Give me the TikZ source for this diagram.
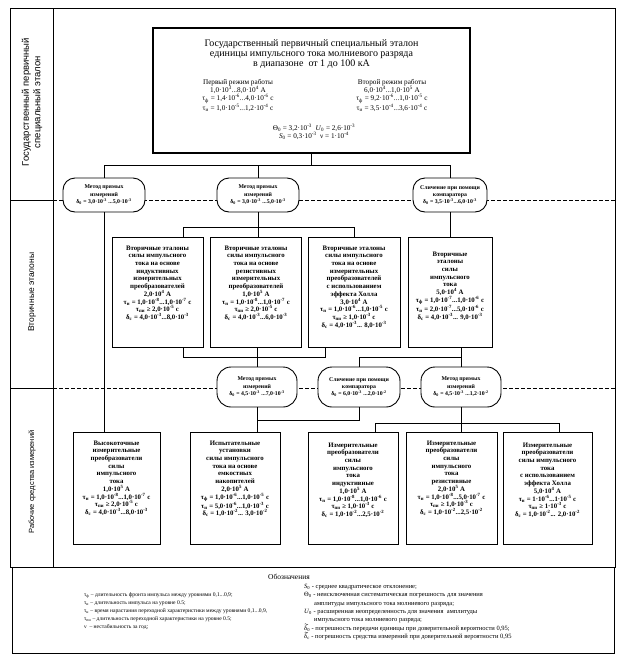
\documentclass[tikz,border=0pt]{standalone}
\usepackage{fontspec}
\setmainfont{Liberation Serif}
\newfontfamily\labelfont{Liberation Sans}
\usetikzlibrary{calc}
\newcommand{\ten}[1]{·10\textsuperscript{#1}}
\newcommand{\sbs}[1]{\textsubscript{#1}}
\newcommand{\tdelta}{\makebox[0pt][l]{\hspace{0.4pt}\raisebox{5.2pt}{\tikz\draw[line width=0.3pt] (0pt,0pt) sin (0.8pt,0.5pt) cos (1.6pt,0pt) sin (2.4pt,-0.5pt) cos (3.2pt,0pt);}}δ}
\tikzset{
  frameline/.style={line width=0.8pt},
  boxst/.style={draw, line width=1pt, fill=white, inner sep=0pt},
  ovalst/.style={draw, line width=0.9pt, fill=white, rounded corners=12pt, inner sep=0pt, align=center, font=\fontsize{5.8}{7.4}\selectfont\bfseries},
  btxt/.style={align=center, inner sep=0pt, font=\fontsize{6.8}{7.7}\selectfont\bfseries},
  ptxt/.style={align=center, inner sep=0pt, font=\fontsize{7.2}{8.3}\selectfont},
  labtxt/.style={rotate=90, align=center, inner sep=0pt},
  conn/.style={line width=0.8pt},
  divl/.style={line width=0.8pt, dash pattern=on 3.5pt off 2.5pt},
}
\begin{document}
\begin{tikzpicture}[x=1pt,y=-1pt]
\useasboundingbox (0,0) rectangle (621,662);
% frame and rows
\draw[frameline] (10,8) rectangle (615,567);
\draw[frameline] (53,8) -- (53,567);
\draw[frameline] (10,200) -- (53,200);
\draw[divl] (53,200) -- (615,200);
\draw[frameline] (10,388) -- (53,388);
\draw[divl] (53,388) -- (615,388);
\draw[frameline] (12,567) rectangle (614,653);
% row labels
\node[labtxt, font=\labelfont\fontsize{9.5}{11.5}\selectfont] (lab1) at (32,102) {Государственный первичный\\специальный эталон};
\node[labtxt, font=\labelfont\fontsize{8.5}{10}\selectfont] (lab2) at (32,292) {Вторичные эталоны};
\node[labtxt, font=\labelfont\fontsize{7.5}{9}\selectfont] (lab3) at (32,482) {Рабочие средства измерений};
% primary standard
\node[boxst, line width=2.2pt, minimum width=317pt, minimum height=125pt] (top) at (311.5,90.5) {};
\node[align=center, inner sep=0pt, font=\fontsize{10}{10.3}\selectfont, anchor=north] (ttl) at (311.5,39) {Государственный первичный специальный эталон\\единицы импульсного тока молниевого разряда\\в диапазоне\ \ от 1 до 100 кА};
\node[ptxt, anchor=north] (m1) at (238,79) {Первый режим работы\\1,0\ten{3}...8,0\ten{4} А\\τ\sbs{ф} = 1,4\ten{-6}...4,0\ten{-6} с\\τ\sbs{и} = 1,0\ten{-5}...1,2\ten{-4} с};
\node[ptxt, anchor=north] (m2) at (392,79) {Второй режим работы\\6,0\ten{4}...1,0\ten{5} А\\τ\sbs{ф} = 9,2\ten{-6}...1,0\ten{-5} с\\τ\sbs{и} = 3,5\ten{-4}...3,6\ten{-4} с};
\node[ptxt, anchor=north] (prm) at (314,124) {Θ\sbs{0} = 3,2\ten{-3}\ \ \textit{U}\sbs{0} = 2,6\ten{-3}\\\textit{S}\sbs{0} = 0,3\ten{-3}\ \ ν = 1\ten{-4}};
% first methods
\node[ovalst, minimum width=82pt, minimum height=34pt] (e1) at (104,195) {Метод прямых\\измерений\\δ\sbs{0} = 3,0\ten{-3} ...5,0\ten{-3}};
\node[ovalst, minimum width=82pt, minimum height=34pt] (e2) at (258,195) {Метод прямых\\измерений\\δ\sbs{0} = 3,0\ten{-3} ...5,0\ten{-3}};
\node[ovalst, minimum width=74pt, minimum height=34pt] (e3) at (450,195) {Сличение при помощи\\компаратора\\δ\sbs{0} = 3,5\ten{-3}...6,0\ten{-3}};
\coordinate (j1) at (0,165);
\draw[conn] (top.south) -- (top.south |- j1);
\draw[conn] (e1.north) |- (e3.north |- j1) -- (e3.north);
\draw[conn] (e2.north) -- (e2.north |- j1);
% secondary standards
\node[boxst, minimum width=91pt, minimum height=110pt] (sA) at (157.5,292) {};
\node[boxst, minimum width=91pt, minimum height=110pt] (sB) at (256,292) {};
\node[boxst, minimum width=92pt, minimum height=110pt] (sC) at (354,292) {};
\node[boxst, minimum width=84pt, minimum height=110pt] (sD) at (450,292) {};
\node[btxt, anchor=north] (tA) at ($(sA.north)+(0,9)$) {Вторичные эталоны\\силы импульсного\\тока на основе\\индуктивных\\измерительных\\преобразователей\\2,0\ten{4} А\\τ\sbs{н} = 1,0\ten{-8}...1,0\ten{-7} с\\τ\sbs{пи} ≥ 2,0\ten{-5} с\\δ\sbs{с} = 4,0\ten{-3}...8,0\ten{-3}};
\node[btxt, anchor=north] (tB) at ($(sB.north)+(0,9)$) {Вторичные эталоны\\силы импульсного\\тока на основе\\резистивных\\измерительных\\преобразователей\\1,0\ten{5} А\\τ\sbs{н} = 1,0\ten{-8}...1,0\ten{-7} с\\τ\sbs{пи} ≥ 2,0\ten{-5} с\\δ\sbs{с} = 4,0\ten{-3}...6,0\ten{-3}};
\node[btxt, anchor=north] (tC) at ($(sC.north)+(0,9)$) {Вторичные эталоны\\силы импульсного\\тока на основе\\измерительных\\преобразователей\\с использованием\\эффекта Холла\\3,0\ten{4} А\\τ\sbs{н} = 1,0\ten{-6}...1,0\ten{-5} с\\τ\sbs{пи} ≥ 1,0\ten{-3} с\\δ\sbs{с} = 4,0\ten{-3}... 8,0\ten{-3}};
\node[btxt, anchor=north] (tD) at ($(sD.north)+(0,15)$) {Вторичные\\эталоны\\силы\\импульсного\\тока\\5,0\ten{4} А\\τ\sbs{ф} = 1,0\ten{-7}...1,0\ten{-6} с\\τ\sbs{и} = 2,0\ten{-7}...5,0\ten{-6} с\\δ\sbs{с} = 4,0\ten{-3}... 9,0\ten{-3}};
\coordinate (j2) at (0,227);
\coordinate (aA1) at ($(sA.north)+(25.5,0)$);
\draw[conn] (e2.south) -- (sB.north -| e2.south);
\draw[conn] (aA1) |- (sC.north |- j2) -- (sC.north);
\draw[conn] (e3.south) -- (sD.north);
% second methods
\node[ovalst, rounded corners=14pt, minimum width=80pt, minimum height=40pt] (e4) at (257,387) {Метод прямых\\измерений\\δ\sbs{0} = 4,5\ten{-3} ...7,0\ten{-3}};
\node[ovalst, rounded corners=14pt, minimum width=82pt, minimum height=40pt] (e5) at (359,387) {Сличение при помощи\\компаратора\\δ\sbs{0} = 6,0\ten{-3} ...2,0\ten{-2}};
\node[ovalst, rounded corners=14pt, minimum width=80pt, minimum height=40pt] (e6) at (461,387) {Метод прямых\\измерений\\δ\sbs{0} = 4,5\ten{-3} ...1,2\ten{-2}};
\coordinate (j3) at (0,357);
\coordinate (aA2) at ($(sA.south)+(25.5,0)$);
\coordinate (aC2) at ($(sC.south)+(-29,0)$);
\draw[conn] (sB.south -| e4.north) -- (e4.north);
\draw[conn] (aA2) |- (aC2 |- j3) -- (aC2);
\draw[conn] (sD.south -| e6.north) -- (e6.north);
\draw[conn] (e5.north) |- (e6.north |- j3);
% working instruments
\node[boxst, minimum width=87pt, minimum height=112pt] (hb1) at (116.5,488) {};
\node[boxst, minimum width=90pt, minimum height=112pt] (hb2) at (235,488) {};
\node[boxst, minimum width=90pt, minimum height=112pt] (hb3) at (353,488) {};
\node[boxst, minimum width=91pt, minimum height=112pt] (hb4) at (451.5,488) {};
\node[boxst, minimum width=89pt, minimum height=112pt] (hb5) at (547.5,488) {};
\node[btxt, anchor=north] (u1) at ($(hb1.north)+(0,9)$) {Высокоточные\\измерительные\\преобразователи\\силы\\импульсного\\тока\\1,0\ten{5} А\\τ\sbs{н} = 1,0\ten{-8}...1,0\ten{-7} с\\τ\sbs{пи} ≥ 2,0\ten{-5} с\\δ\sbs{с} = 4,0\ten{-3}...8,0\ten{-3}};
\node[btxt, anchor=north] (u2) at ($(hb2.north)+(0,9)$) {Испытательные\\установки\\силы импульсного\\тока на основе\\емкостных\\накопителей\\2,0\ten{5} А\\τ\sbs{ф} = 1,0\ten{-6}...1,0\ten{-5} с\\τ\sbs{и} = 5,0\ten{-6}...1,0\ten{-3} с\\δ\sbs{с} = 1,0\ten{-2}... 3,0\ten{-2}};
\node[btxt, anchor=north] (u3) at ($(hb3.north)+(0,11)$) {Измерительные\\преобразователи\\силы\\импульсного\\тока\\индуктивные\\1,0\ten{5} А\\τ\sbs{н} = 1,0\ten{-8}...1,0\ten{-6} с\\τ\sbs{пи} ≥ 1,0\ten{-3} с\\δ\sbs{с} = 1,0\ten{-2}...2,5\ten{-2}};
\node[btxt, anchor=north] (u4) at ($(hb4.north)+(0,9)$) {Измерительные\\преобразователи\\силы\\импульсного\\тока\\резистивные\\2,0\ten{5} А\\τ\sbs{н} = 1,0\ten{-8}...5,0\ten{-7} с\\τ\sbs{пи} ≥ 1,0\ten{-3} с\\δ\sbs{с} = 1,0\ten{-2}...2,5\ten{-2}};
\node[btxt, anchor=north] (u5) at ($(hb5.north)+(0,11)$) {Измерительные\\преобразователи\\силы импульсного\\тока\\с использованием\\эффекта Холла\\5,0\ten{4} А\\τ\sbs{н} = 1\ten{-6}...1\ten{-5} с\\τ\sbs{пи} ≥ 1\ten{-3} с\\δ\sbs{с} = 1,0\ten{-2}... 2,0\ten{-2}};
\coordinate (j4) at (0,420);
\coordinate (j5) at (0,423);
\coordinate (b3) at ($(hb3.north)+(22,0)$);
\coordinate (b5) at ($(hb5.north)+(12,0)$);
\draw[conn] (e1.south) -- (e1.south |- hb1.north);
\draw[conn] (e4.south) -- (e4.south |- hb2.north);
\draw[conn] (e5.south) |- (e4.south |- j4);
\draw[conn] (e6.south) -- (e6.south |- hb4.north);
\draw[conn] (b3) |- (b5 |- j5) -- (b5);
% legend
\node[inner sep=0pt, font=\fontsize{7.5}{9}\selectfont] (leg) at (289,577) {Обозначения};
\node[anchor=north west, align=left, inner sep=0pt, font=\fontsize{5.6}{8}\selectfont] (legl) at (84,592) {τ\sbs{ф} – длительность фронта импульса между уровнями 0,1...0,9;\\τ\sbs{и} – длительность импульса на уровне 0.5;\\τ\sbs{н} – время нарастания переходной характеристики между уровнями 0,1...0,9,\\τ\sbs{пи} – длительность переходной характеристики на уровне 0.5;\\ν\ \ – нестабильность за год;};
\node[anchor=north west, align=left, inner sep=0pt, font=\fontsize{6.5}{8.3}\selectfont] (legr) at (304,584) {\textit{S}\sbs{0} - среднее квадратическое отклонение;\\Θ\sbs{0} - неисключенная систематическая погрешность для значения\\\hspace*{10pt}амплитуды импульсного тока молниевого разряда;\\\textit{U}\sbs{0} - расширенная неопределенность для значения\ \ амплитуды\\\hspace*{10pt}импульсного тока молниевого разряда;\\\tdelta\sbs{0} - погрешность передачи единицы при доверительной вероятности 0,95;\\\tdelta\sbs{с} - погрешность средства измерений при доверительной вероятности 0,95};
\end{tikzpicture}
\end{document}
